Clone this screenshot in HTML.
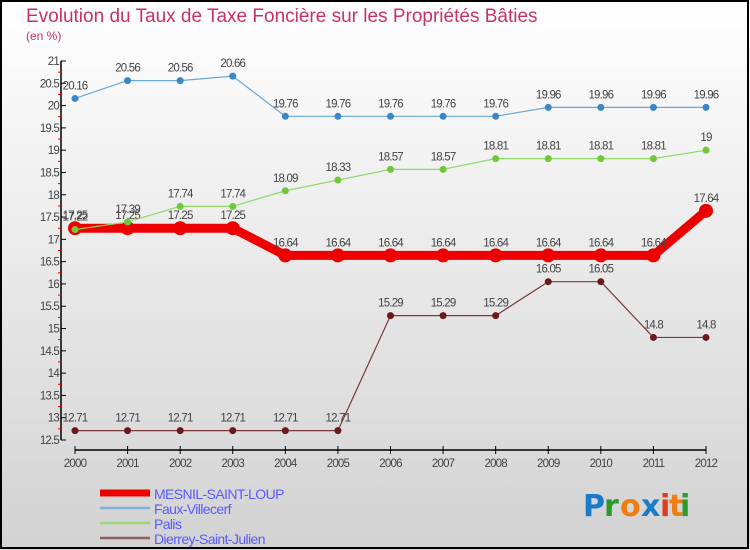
<!DOCTYPE html>
<html><head><meta charset="utf-8"><style>
html,body{margin:0;padding:0}
body{width:750px;height:550px;overflow:hidden;font-family:"Liberation Sans",sans-serif}
#c{position:absolute;left:0;top:0}
</style></head><body>
<svg id="c" width="750" height="550" xmlns="http://www.w3.org/2000/svg">
<defs><linearGradient id="bg" x1="0" y1="0" x2="0" y2="1"><stop offset="0" stop-color="#ffffff"/><stop offset="1" stop-color="#d2d2d2"/></linearGradient></defs>
<rect x="0" y="0" width="750" height="550" fill="url(#bg)"/>
<rect x="1" y="1" width="747" height="547" fill="none" stroke="#000" stroke-width="2"/>
<text x="26" y="22" font-size="19" fill="#c8306a">Evolution du Taux de Taxe Foncière sur les Propriétés Bâties</text>
<text x="26" y="40" font-size="12" fill="#c8306a">(en %)</text>
<g id="axes"></g><g id="series"></g><g id="legend"></g>
<g font-size="30" font-weight="bold" font-family="'DejaVu Sans',sans-serif">
<text x="583" y="516" fill="#1a7bc8">P</text><text x="604" y="516" fill="#2e9a2e">r</text><text x="620" y="516" fill="#f07d10">o</text><text x="641" y="516" fill="#1a7bc8">x</text><text x="660" y="516" fill="#e03a20">i</text><text x="669" y="516" fill="#f07d10">t</text><text x="680" y="516" fill="#2e9a2e">i</text>
</g>
</svg>
<script>
const years=[2000,2001,2002,2003,2004,2005,2006,2007,2008,2009,2010,2011,2012];
const yTicks=[12.5,13,13.5,14,14.5,15,15.5,16,16.5,17,17.5,18,18.5,19,19.5,20,20.5,21];
const mesnil=[17.25,17.25,17.25,17.25,16.64,16.64,16.64,16.64,16.64,16.64,16.64,16.64,17.64];
const faux=[20.16,20.56,20.56,20.66,19.76,19.76,19.76,19.76,19.76,19.96,19.96,19.96,19.96];
const palis=[17.22,17.39,17.74,17.74,18.09,18.33,18.57,18.57,18.81,18.81,18.81,18.81,19];
const dierrey=[12.71,12.71,12.71,12.71,12.71,12.71,15.29,15.29,15.29,16.05,16.05,14.8,14.8];
const labels=["MESNIL-SAINT-LOUP","Faux-Villecerf","Palis","Dierrey-Saint-Julien"];
const NS="http://www.w3.org/2000/svg";
const x=i=>75+i*(706-75)/12;
const y=v=>440-(v-12.5)*(440-61)/8.5;
function mk(t,a,p){const e=document.createElementNS(NS,t);for(const k in a)e.setAttribute(k,a[k]);p.appendChild(e);return e;}
const ax=document.getElementById('axes');
mk('line',{x1:61,y1:61,x2:61,y2:440,stroke:'#000','stroke-width':1.5},ax);
mk('line',{x1:75,y1:450,x2:706,y2:450,stroke:'#000','stroke-width':1.5},ax);
yTicks.forEach((v,i)=>{
 mk('line',{x1:61,y1:y(v),x2:66,y2:y(v),stroke:'#000'},ax);
 if(i<yTicks.length-1){mk('line',{x1:58,y1:y(v+0.25),x2:61,y2:y(v+0.25),stroke:'#e00'},ax);}
 const t=mk('text',{x:59,y:y(v)+4,'font-size':11.5,'text-anchor':'end',fill:'#444','letter-spacing':'-0.8'},ax);
 t.textContent=String(v);
 
 
});
years.forEach((yr,i)=>{
 mk('line',{x1:x(i),y1:446,x2:x(i),y2:454,stroke:'#000'},ax);
 const t=mk('text',{x:x(i),y:467,'font-size':11.5,'text-anchor':'middle',fill:'#444','letter-spacing':'-0.8'},ax);
 t.textContent=String(yr);
 
 
});
const sg=document.getElementById('series');
function series(vals,color,w,r,name,dotColor){
 const g=mk('g',{},sg);
 
 
 mk('polyline',{points:vals.map((v,i)=>x(i)+','+y(v)).join(' '),fill:'none',stroke:color,'stroke-width':w,'stroke-linejoin':'round'},g);
 vals.forEach((v,i)=>{
  const c=mk('circle',{cx:x(i),cy:y(v),r:r,fill:dotColor},g);
  
  
  const t=mk('text',{x:x(i),y:y(v)-9,'font-size':11.5,'text-anchor':'middle',fill:'#444','letter-spacing':'-0.8'},g);
  t.textContent=String(v);
  
  
 });
}
series(dierrey,'#7a3a3a',1.2,3.5,'dierrey-series','#6a1a1a');
series(mesnil,'#ee0000',9,7,'mesnil-series','#ee0000');
series(palis,'#8fd868',1.2,3.5,'palis-series','#70c838');
series(faux,'#6aa8d8',1.2,3.5,'faux-series','#3a86c8');
const lg=document.getElementById('legend');
const lc=['#ee0000','#80b0d8','#98d878','#906060'];const lw=[7,2.5,2.5,2.5];
labels.forEach((n,i)=>{
 const yy=493+i*15;
 const l=mk('line',{x1:100,y1:yy,x2:150,y2:yy,stroke:lc[i],'stroke-width':lw[i]},lg);
 
 const t=mk('text',{x:154,y:yy+6,'font-size':14,fill:'#5a5aff','letter-spacing':'-0.6'},lg);
 t.textContent=n;
 
 
});
</script>
</body></html>
